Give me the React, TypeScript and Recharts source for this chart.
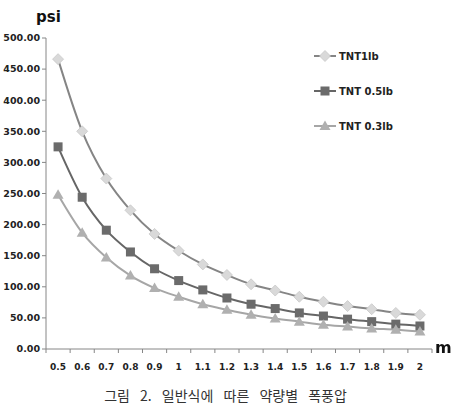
import React from "react";
import { Line, LineChart, XAxis, YAxis } from "recharts";

const distances = ["0.5", "0.6", "0.7", "0.8", "0.9", "1", "1.1", "1.2", "1.3", "1.4", "1.5", "1.6", "1.7", "1.8", "1.9", "2"];
const tnt1lb = [466, 350, 274, 223, 185, 158, 136, 119, 104, 94, 84, 76, 69, 64, 58, 55];
const tnt05lb = [325, 244, 191, 156, 129, 110, 95, 82, 72, 65, 58, 53, 48, 44, 40, 37];
const tnt03lb = [248, 187, 147, 118, 98, 84, 72, 63, 55, 49, 44, 39, 36, 33, 31, 28];
const yTicks = [0, 50, 100, 150, 200, 250, 300, 350, 400, 450, 500];

const seriesNames = ["TNT1lb", "TNT 0.5lb", "TNT 0.3lb"];

const data = distances.map((d, i) => ({
  m: d,
  [seriesNames[0]]: tnt1lb[i],
  [seriesNames[1]]: tnt05lb[i],
  [seriesNames[2]]: tnt03lb[i],
}));

const FONT = "'DejaVu Sans', 'Noto Sans', sans-serif";
const AXIS = "#868686";
const BAND = 386 / distances.length;

function Diamond({ cx, cy }: any) {
  if (cx == null || cy == null) return null;
  return <path d={`M${cx},${cy - 5.5}L${cx + 5.5},${cy}L${cx},${cy + 5.5}L${cx - 5.5},${cy}Z`} fill="#d9d9d9" stroke="#c8c8c8" strokeWidth={0.8} />;
}

function Square({ cx, cy }: any) {
  if (cx == null || cy == null) return null;
  return <rect x={cx - 4.5} y={cy - 4.5} width={9} height={9} fill="#6b6b6b" />;
}

function Triangle({ cx, cy }: any) {
  if (cx == null || cy == null) return null;
  return <path d={`M${cx},${cy - 5.5}L${cx + 5.5},${cy + 4}L${cx - 5.5},${cy + 4}Z`} fill="#b0b0b0" />;
}

// excel style: tick marks between categories, label in the middle
function XTick({ x, y, payload, index }: any) {
  const left = x - BAND / 2;
  return (
    <g>
      <line x1={left} y1={y - 8} x2={left} y2={y - 4} stroke={AXIS} />
      {index === distances.length - 1 && <line x1={x + BAND / 2} y1={y - 8} x2={x + BAND / 2} y2={y - 4} stroke={AXIS} />}
      <text x={x} y={y + 13} textAnchor="middle" fontSize={9} fontWeight="bold" fill="#222" fontFamily={FONT}>
        {payload.value}
      </text>
    </g>
  );
}

const legendItems = [
  { name: seriesNames[0], line: "#858585", Marker: Diamond },
  { name: seriesNames[1], line: "#666666", Marker: Square },
  { name: seriesNames[2], line: "#a6a6a6", Marker: Triangle },
];

export default function App() {
  return (
    <div style={{ position: "fixed", left: 0, top: 0, width: 451, height: 410, background: "#fff", fontFamily: FONT }}>
      <LineChart width={451} height={410} data={data} margin={{ top: 38, right: 19, bottom: 0, left: 0 }}>
        <XAxis
          dataKey="m"
          height={61}
          stroke={AXIS}
          tickLine={false}
          interval={0}
          padding={{ left: BAND / 2, right: BAND / 2 }}
          tick={<XTick />}
        />
        <YAxis
          width={46}
          domain={[0, 500]}
          ticks={yTicks}
          stroke={AXIS}
          tickSize={4}
          tickFormatter={(v: number) => v.toFixed(2)}
          tick={{ fontSize: 9.5, fontWeight: "bold", fill: "#222", fontFamily: FONT }}
        />
        <Line type="monotone" dataKey={seriesNames[0]} stroke="#858585" strokeWidth={2} dot={<Diamond />} isAnimationActive={false} />
        <Line type="monotone" dataKey={seriesNames[1]} stroke="#666666" strokeWidth={2} dot={<Square />} isAnimationActive={false} />
        <Line type="monotone" dataKey={seriesNames[2]} stroke="#a6a6a6" strokeWidth={2} dot={<Triangle />} isAnimationActive={false} />
      </LineChart>
      <div style={{ position: "absolute", left: 36, top: 8, fontSize: 15, fontWeight: "bold", color: "#111" }}>psi</div>
      <div style={{ position: "absolute", left: 435, top: 338, fontSize: 16, fontWeight: "bold", color: "#111" }}>m</div>
      <svg style={{ position: "absolute", left: 300, top: 40 }} width={140} height={100}>
        {legendItems.map((it, i) => (
          <g key={it.name}>
            <line x1={14} x2={36} y1={16 + i * 35} y2={16 + i * 35} stroke={it.line} strokeWidth={2} />
            <it.Marker cx={25} cy={16 + i * 35} />
            <text x={39} y={20 + i * 35} fontSize={10} fontWeight="bold" fill="#222" fontFamily={FONT}>
              {it.name}
            </text>
          </g>
        ))}
      </svg>
      <div
        style={{
          position: "absolute",
          left: 0,
          width: 451,
          top: 385,
          textAlign: "center",
          fontSize: 14,
          color: "#333",
          wordSpacing: 7,
          fontFamily: "'Noto Sans CJK KR', sans-serif",
        }}
      >
        그림 2. 일반식에 따른 약량별 폭풍압
      </div>
    </div>
  );
}
